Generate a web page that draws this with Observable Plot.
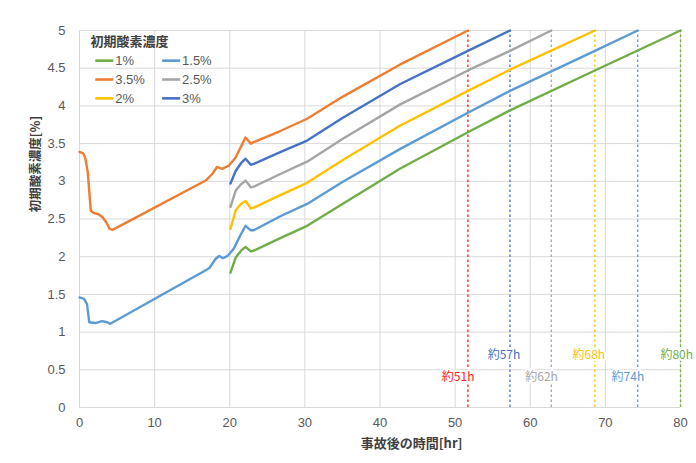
<!DOCTYPE html>
<html><head><meta charset="utf-8">
<script src="https://cdn.jsdelivr.net/npm/d3@7"></script>
<script src="https://cdn.jsdelivr.net/npm/@observablehq/plot@0.6"></script>
<style>body{margin:0;background:#fff;}</style>
</head><body><div id="chart"></div>
<script>
// ---- data ----
const seriesNames = ["1%", "1.5%", "2%", "2.5%", "3%", "3.5%"];
const seriesColors = ["#70ad47", "#5b9bd5", "#ffc000", "#a5a5a5", "#4472c4", "#ed7d31"];

const t1 = [20.1, 20.8, 21.5, 22.1, 22.8, 23.2, 26.8, 30.3, 35, 42.7, 51.7, 57.3, 68.6, 80];
const v1 = [1.79, 1.99, 2.08, 2.13, 2.07, 2.08, 2.25, 2.41, 2.70, 3.17, 3.65, 3.94, 4.47, 5.0];

const t15 = [0, 0.6, 1.0, 1.3, 2.1, 3.0, 3.7, 4.1, 16.8, 17.3, 18.1, 18.6, 19.1, 19.7, 20.5, 21.0, 21.5, 22.1, 22.8, 23.2, 26.8, 30.3, 35, 42.7, 51.7, 57.3, 68.6, 74.3];
const v15 = [1.46, 1.44, 1.37, 1.13, 1.12, 1.145, 1.13, 1.11, 1.82, 1.85, 1.97, 2.01, 1.98, 2.01, 2.10, 2.20, 2.30, 2.41, 2.35, 2.35, 2.54, 2.70, 2.99, 3.43, 3.91, 4.20, 4.73, 5.0];

const t2 = [20.1, 20.8, 21.5, 22.1, 22.8, 23.2, 26.8, 30.3, 35, 42.7, 51.7, 57.3, 68.6];
const v2 = [2.37, 2.62, 2.70, 2.74, 2.64, 2.65, 2.82, 2.98, 3.28, 3.74, 4.20, 4.48, 5.0];

const t25 = [20.1, 20.8, 21.5, 22.1, 22.8, 23.2, 26.8, 30.3, 35, 42.7, 51.7, 57.3, 62.8];
const v25 = [2.66, 2.88, 2.96, 3.01, 2.92, 2.93, 3.10, 3.26, 3.56, 4.02, 4.47, 4.73, 5.0];

const t3 = [20.1, 20.8, 21.5, 22.1, 22.8, 23.2, 26.8, 30.3, 35, 42.7, 51.7, 57.3];
const v3 = [2.97, 3.14, 3.24, 3.30, 3.22, 3.23, 3.39, 3.54, 3.84, 4.29, 4.73, 5.0];

const t35 = [0, 0.5, 0.8, 1.1, 1.5, 1.9, 2.6, 3.1, 3.6, 4.0, 4.4, 16.8, 17.7, 18.3, 19.0, 19.9, 20.8, 21.5, 22.1, 22.8, 23.2, 26.8, 30.3, 35, 42.7, 51.7];
const v35 = [3.39, 3.37, 3.30, 3.12, 2.61, 2.58, 2.56, 2.52, 2.45, 2.37, 2.355, 3.01, 3.10, 3.19, 3.165, 3.21, 3.32, 3.46, 3.58, 3.50, 3.52, 3.67, 3.83, 4.12, 4.55, 5.0];

const seriesTimes = [t1, t15, t2, t25, t3, t35];
const seriesValues = [v1, v15, v2, v25, v3, v35];

const endTimes = [51.7, 57.3, 62.8, 68.6, 74.3, 80];
const endLabels = ["約51h", "約57h", "約62h", "約68h", "約74h", "約80h"];
const endColors = ["#ff1a1a", "#4472c4", "#a5a5a5", "#ffc000", "#5b9bd5", "#70ad47"];

const xTicks = [0, 10, 20, 30, 40, 50, 60, 70, 80];
const yTicks = [0, 0.5, 1, 1.5, 2, 2.5, 3, 3.5, 4, 4.5, 5];

const legendTitle = "初期酸素濃度";
const legendOrder = ["1%", "1.5%", "3.5%", "2.5%", "2%", "3%"];
const xLabel = "事故後の時間[hr]";
const yLabel = "初期酸素濃度[%]";

// ---- build tables ----
const rows = [];
seriesNames.forEach((s, i) => seriesTimes[i].forEach((t, j) => rows.push({series: s, t, v: seriesValues[i][j]})));

// label placement (layout)
const labelRows = endLabels.map((lab, i) => ({
  x: endTimes[i] - (i === 5 ? 0.5 : (i % 2 === 0 ? 1.3 : 0.8)),
  y: i % 2 === 0 ? 0.40 : 0.69,
  text: lab, color: endColors[i]
}));

// legend layout in plot coordinates
const legRowsY = [4.60, 4.35, 4.10];
const legCols = [{x1: 2.1, x2: 4.5, tx: 4.75}, {x1: 11.0, x2: 13.4, tx: 13.65}];
const legendItems = legendOrder.map((s, k) => {
  const c = legCols[k % 2], y = legRowsY[Math.floor(k / 2)];
  return {series: s, x1: c.x1, x2: c.x2, tx: c.tx, y};
});

const CJK = "'Noto Sans CJK JP', 'Noto Sans', sans-serif";

const marks = [
  Plot.gridX(xTicks, {stroke: "#d9d9d9", strokeOpacity: 1, strokeWidth: 1}),
  Plot.gridY(yTicks, {stroke: "#d9d9d9", strokeOpacity: 1, strokeWidth: 1}),
  ...endTimes.map((t, i) => Plot.ruleX([t], {y1: 0, y2: 5, stroke: endColors[i], strokeDasharray: "2.5,2.5", strokeWidth: 1.3})),
  ...labelRows.map(d => Plot.text([d], {x: "x", y: "y", text: "text", fill: d.color, stroke: "white", strokeWidth: 4, fontSize: 12, fontFamily: CJK})),
  Plot.line(rows, {x: "t", y: "v", z: "series", stroke: "series", strokeWidth: 2.4, curve: "linear"}),
  Plot.text([{x: 1.46, y: 4.845, text: legendTitle}], {x: "x", y: "y", text: "text", textAnchor: "start", fontWeight: "bold", fontSize: 13, fill: "#404040", fontFamily: CJK}),
  Plot.link(legendItems, {x1: "x1", x2: "x2", y1: "y", y2: "y", stroke: "series", strokeWidth: 2.6}),
  Plot.text(legendItems, {x: "tx", y: "y", text: "series", textAnchor: "start", fontSize: 13, fill: "#595959"}),
  Plot.text([xLabel], {frameAnchor: "bottom", x: () => 44.2, text: d => d, dy: 36, fontWeight: "bold", fontSize: 13, fill: "#404040", fontFamily: CJK, lineAnchor: "middle"}),
  Plot.text([yLabel], {frameAnchor: "left", y: () => 2.59, text: d => d, dx: -44, rotate: -90, fontWeight: "bold", fontSize: 12.5, fill: "#404040", fontFamily: CJK, lineAnchor: "middle"}),
  Plot.axisX(xTicks, {tickSize: 0, tickPadding: 10, tickFormat: d => String(d), label: null, fontSize: 13, fill: "#595959"}),
  Plot.axisY(yTicks, {tickSize: 0, tickPadding: 14, tickFormat: d => String(d), label: null, fontSize: 13, fill: "#595959"})
];

const chart = Plot.plot({
  width: 696, height: 463,
  marginLeft: 79, marginRight: 16, marginTop: 30, marginBottom: 56,
  style: {fontFamily: "'Liberation Sans', Arial, sans-serif", fontSize: "13px", color: "#595959", background: "#fff"},
  x: {domain: [0, 80]},
  y: {domain: [0, 5]},
  color: {domain: seriesNames, range: seriesColors},
  marks
});
document.getElementById("chart").appendChild(chart);
</script>
</body></html>
